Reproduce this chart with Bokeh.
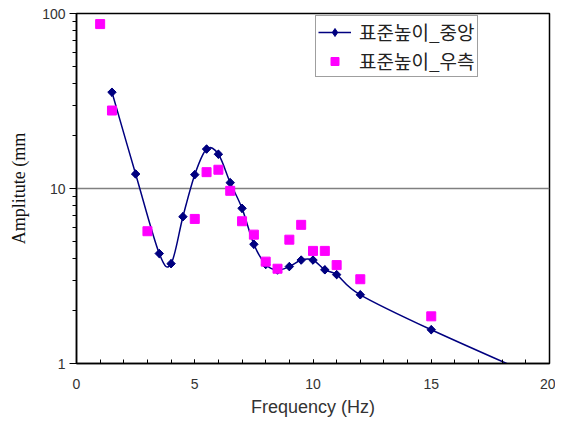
import numpy as np
from bokeh.plotting import figure
from bokeh.models import FixedTicker, Legend, LegendItem, PrintfTickFormatter
from bokeh.embed import file_html
from bokeh.resources import INLINE

# Data
freq_center = [1.5, 2.5, 3.5, 4, 4.5, 5, 5.5, 6, 6.5, 7, 7.5, 8, 8.5, 9, 9.5, 10, 10.5, 11, 12, 15, 20]
amp_center = [35.5, 12.1, 4.25, 3.72, 6.9, 12.0, 16.8, 15.7, 10.8, 7.7, 4.8, 3.68, 3.42, 3.58, 3.9, 3.9, 3.43, 3.22, 2.47, 1.56, 0.78]
freq_right = [1, 1.5, 3, 5, 5.5, 6, 6.5, 7, 7.5, 8, 8.5, 9, 9.5, 10, 10.5, 11, 12, 15]
amp_right = [87, 27.9, 5.7, 6.7, 12.4, 12.8, 9.7, 6.5, 5.45, 3.82, 3.48, 5.1, 6.2, 4.4, 4.4, 3.65, 3.03, 1.86]
x_ticks = [0, 5, 10, 15, 20]
y_ticks = [1, 10, 100]
label_center = "표준높이_중앙"
label_right = "표준높이_우측"

p = figure(width=555, height=423, y_axis_type="log", x_range=(0, 20), y_range=(1, 100),
           output_backend="svg", toolbar_location=None,
           min_border_left=76, min_border_right=6, min_border_top=13, min_border_bottom=60)
p.background_fill_color = "white"
p.outline_line_color = "black"
p.outline_line_width = 1.5

# Smoothed curve (Excel-like Catmull-Rom Bezier) computed from data in (x, log y) space
xs = np.array(freq_center, dtype=float)
ly = np.log10(np.array(amp_center, dtype=float))
n = len(xs)
x0, y0, x1, y1, cx0, cy0, cx1, cy1 = [], [], [], [], [], [], [], []
t = 1.0 / 6.0
for i in range(n - 1):
    im1 = max(i - 1, 0)
    ip2 = min(i + 2, n - 1)
    x0.append(xs[i]); y0.append(10 ** ly[i])
    x1.append(xs[i + 1]); y1.append(10 ** ly[i + 1])
    cx0.append(xs[i] + (xs[i + 1] - xs[im1]) * t)
    cy0.append(10 ** (ly[i] + (ly[i + 1] - ly[im1]) * t))
    cx1.append(xs[i + 1] - (xs[ip2] - xs[i]) * t)
    cy1.append(10 ** (ly[i + 1] - (ly[ip2] - ly[i]) * t))

bez = p.bezier(x0=x0, y0=y0, x1=x1, y1=y1, cx0=cx0, cy0=cy0, cx1=cx1, cy1=cy1,
               line_color="#000080", line_width=1.5)
# narrow diamond (used as legend glyph), fully covered by the rotated squares
sc1_leg = p.scatter(freq_center, amp_center, marker="diamond", size=8,
                    fill_color="#000080", line_color="#000080")
sc1 = p.scatter(freq_center, amp_center, marker="square", angle=np.pi / 4, size=6,
                fill_color="#000080", line_color="#000080")
sc2 = p.scatter(freq_right, amp_right, marker="square", size=9,
                fill_color="#FF00FF", line_color="#FF00FF")

# Grid
p.xgrid.visible = False
p.ygrid.grid_line_color = "#808080"
p.ygrid.grid_line_width = 1.5

# X axis
p.xaxis.ticker = FixedTicker(ticks=x_ticks, minor_ticks=list(range(0, 21)))
p.xaxis.major_tick_in = 4
p.xaxis.major_tick_out = 0
p.xaxis.minor_tick_in = 4
p.xaxis.minor_tick_out = 0
p.xaxis.axis_line_width = 1.5
p.xaxis.axis_line_color = "black"
p.xaxis.major_tick_line_color = "black"
p.xaxis.minor_tick_line_color = "black"
p.xaxis.major_label_text_font = "Liberation Sans"
p.xaxis.major_label_text_font_size = "14px"
p.xaxis.major_label_text_color = "#333333"
p.xaxis.major_label_standoff = 15
p.xaxis.axis_label = "Frequency (Hz)"
p.xaxis.axis_label_text_font = "Liberation Sans"
p.xaxis.axis_label_text_font_style = "normal"
p.xaxis.axis_label_text_font_size = "18px"
p.xaxis.axis_label_text_color = "#333333"
p.xaxis.axis_label_standoff = 5

# Y axis
minor_y = [v * d for d in (1, 10) for v in range(2, 10)]
p.yaxis.ticker = FixedTicker(ticks=y_ticks, minor_ticks=minor_y)
p.yaxis.formatter = PrintfTickFormatter(format="%d")
p.yaxis.major_tick_in = 0
p.yaxis.major_tick_out = 7
p.yaxis.minor_tick_in = 0
p.yaxis.minor_tick_out = 4
p.yaxis.axis_line_width = 1.5
p.yaxis.axis_line_color = "black"
p.yaxis.major_tick_line_color = "black"
p.yaxis.minor_tick_line_color = "black"
p.yaxis.major_label_text_font = "Liberation Sans"
p.yaxis.major_label_text_font_size = "14px"
p.yaxis.major_label_text_color = "#333333"
p.yaxis.major_label_standoff = 4
p.yaxis.axis_label = "Amplitute (mm"
p.yaxis.axis_label_text_font = "Liberation Serif"
p.yaxis.axis_label_text_font_style = "normal"
p.yaxis.axis_label_text_font_size = "18px"
p.yaxis.axis_label_text_color = "#111111"
p.yaxis.axis_label_standoff = 10

legend = Legend(items=[LegendItem(label=label_center, renderers=[bez, sc1_leg]),
                       LegendItem(label=label_right, renderers=[sc2])],
                location=(239, 286))
legend.label_text_font = "Noto Sans CJK KR"
legend.label_text_font_size = "19px"
legend.label_text_color = "#222222"
legend.glyph_width = 33
legend.glyph_height = 20
legend.label_height = 20
legend.label_standoff = 8
legend.spacing = 2
legend.padding = 2
legend.margin = 0
legend.border_line_color = "#404040"
legend.border_line_width = 1
legend.background_fill_alpha = 1
p.add_layout(legend, "center")

open("out.html", "w").write(file_html(p, INLINE))
